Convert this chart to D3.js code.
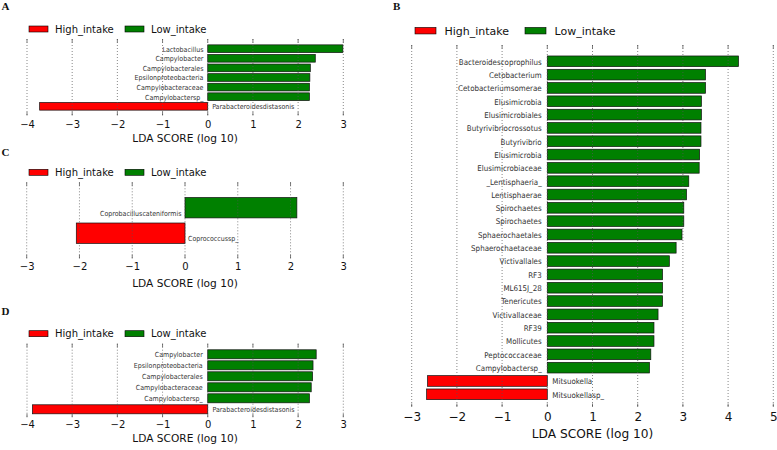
<!DOCTYPE html>
<html><head><meta charset="utf-8">
<script src="https://cdn.jsdelivr.net/npm/d3@7"></script>
<style>
body{margin:0;background:#fff;}
svg{display:block;}
.barlab{font-family:"DejaVu Sans Condensed","DejaVu Sans",sans-serif;font-stretch:condensed;fill:#333;}
.tick text,.ttl,.leg{font-family:"DejaVu Sans",sans-serif;fill:#111;}
.letter{font-family:"Liberation Serif","DejaVu Serif",serif;font-weight:bold;fill:#111;}
</style></head>
<body>
<script>
// ---------------- DATA ----------------
const groups = ["High_intake", "Low_intake"];
const groupColors = ["#ff0000", "#008000"];

const namesA = ["Lactobacillus","Campylobacter","Campylobacterales","Epsilonproteobacteria","Campylobacteraceae","Campylobactersp_","Parabacteroidesdistasonis"];
const valuesA = [2.99, 2.38, 2.27, 2.26, 2.25, 2.25, -3.72];
const ticksA = [-4,-3,-2,-1,0,1,2,3];

const namesC = ["Coprobacilluscateniformis","Coprococcussp_"];
const valuesC = [2.12, -2.06];
const ticksC = [-3,-2,-1,0,1,2,3];

const namesD = ["Campylobacter","Epsilonproteobacteria","Campylobacterales","Campylobacteraceae","Campylobactersp_","Parabacteroidesdistasonis"];
const valuesD = [2.40, 2.33, 2.32, 2.29, 2.25, -3.88];
const ticksD = [-4,-3,-2,-1,0,1,2,3];

const namesB = ["Bacteroidescoprophilus","Cetobacterium","Cetobacteriumsomerae","Elusimicrobia","Elusimicrobiales","Butyrivibriocrossotus","Butyrivibrio","Elusimicrobia","Elusimicrobiaceae","_Lentisphaeria_","Lentisphaerae","Spirochaetes","Spirochaetes","Sphaerochaetales","Sphaerochaetaceae","Victivallales","RF3","ML615J_28","Tenericutes","Victivallaceae","RF39","Mollicutes","Peptococcaceae","Campylobactersp_","Mitsuokella","Mitsuokellasp_"];
const valuesB = [4.23, 3.50, 3.50, 3.41, 3.41, 3.40, 3.40, 3.37, 3.36, 3.13, 3.08, 3.02, 3.02, 2.98, 2.85, 2.70, 2.55, 2.55, 2.55, 2.45, 2.36, 2.36, 2.29, 2.26, -2.65, -2.67];
const ticksB = [-3,-2,-1,0,1,2,3,4,5];

const axisTitle = "LDA SCORE (log 10)";

// ---------------- DRAW ----------------
const svg = d3.select("body").append("svg").attr("width",777).attr("height",450);

function fmt(d){ return d < 0 ? "\u2212" + Math.abs(d) : String(d); }

function drawPanel(o){
  const g = svg.append("g");
  const x = d3.scaleLinear().domain(d3.extent(o.ticks)).range(o.xRange);
  const rows = o.names.map((n,i)=>({key:i, name:n, v:o.values[i]}));
  const y = d3.scaleBand().domain(rows.map(r=>r.key)).range(o.yRange)
      .paddingInner(o.padIn).paddingOuter(o.padOut);

  // letter
  g.append("text").attr("class","letter").attr("x",o.letter[0]).attr("y",o.letter[1])
    .attr("font-size",o.letterSize).text(o.letterText);

  // legend
  const lg = g.append("g");
  groups.forEach((gr,i)=>{
    lg.append("rect").attr("x",o.legX[i]).attr("y",o.legY-o.legH/2)
      .attr("width",o.legW).attr("height",o.legH)
      .attr("fill",groupColors[i]).attr("stroke","#000").attr("stroke-width",0.6);
    lg.append("text").attr("class","leg").attr("x",o.legX[i]+o.legW+o.legGap).attr("y",o.legY)
      .attr("dy","0.36em").attr("font-size",o.legFont).text(gr);
  });

  // bars
  g.selectAll("rect.bar").data(rows).join("rect").attr("class","bar")
    .attr("x",d=>x(Math.min(0,d.v))).attr("width",d=>Math.abs(x(d.v)-x(0)))
    .attr("y",d=>y(d.key)).attr("height",y.bandwidth())
    .attr("fill",d=>d.v<0?groupColors[0]:groupColors[1])
    .attr("stroke","#111").attr("stroke-width",0.7);

  // bar labels
  g.selectAll("text.barlab").data(rows).join("text").attr("class","barlab")
    .attr("font-size",o.labFont)
    .attr("x",d=>d.v<0 ? x(0)+o.labGapR : x(0)-o.labGapL)
    .attr("y",d=>y(d.key)+y.bandwidth()-o.labUp)
    .attr("text-anchor",d=>d.v<0?"start":"end")
    .text(d=>d.name);

  // grid (on top of bars)
  const gr = g.append("g");
  o.ticks.forEach(t=>{
    gr.append("line").attr("x1",x(t)).attr("x2",x(t)).attr("y1",o.top).attr("y2",o.bottom)
      .attr("stroke","#555").attr("stroke-width",0.7).attr("stroke-dasharray","1,2");
    gr.append("line").attr("x1",x(t)).attr("x2",x(t)).attr("y1",o.top).attr("y2",o.top+3.5)
      .attr("stroke","#444").attr("stroke-width",0.7);
    gr.append("line").attr("x1",x(t)).attr("x2",x(t)).attr("y1",o.bottom-3.5).attr("y2",o.bottom)
      .attr("stroke","#444").attr("stroke-width",0.7);
  });

  // axis tick labels
  const ax = g.append("g").attr("transform",`translate(0,${o.tickY})`)
    .call(d3.axisBottom(x).tickValues(o.ticks).tickFormat(fmt).tickSize(0).tickPadding(0));
  ax.select(".domain").remove();
  ax.selectAll(".tick text").attr("y",0).attr("dy","0.36em").attr("font-size",o.tickFont)
    .attr("fill","#111");

  // axis title
  g.append("text").attr("class","ttl").attr("x",(o.xRange[0]+o.xRange[1])/2).attr("y",o.titleY)
    .attr("dy","0.36em").attr("text-anchor","middle").attr("font-size",o.titleFont).text(axisTitle);
}

drawPanel({
  names:namesA, values:valuesA, ticks:ticksA, xRange:[27,343.3],
  yRange:[43.9,111.1], padIn:0.2, padOut:0.1, top:39, bottom:115.5,
  letter:[1.5,10], letterSize:11, letterText:"A",
  legX:[29,125], legY:29, legW:19, legH:6, legGap:7, legFont:10,
  labFont:7, labGapL:4.3, labGapR:4.4, labUp:1,
  tickY:124.5, tickFont:10, titleY:138, titleFont:10.6
});
drawPanel({
  names:namesC, values:valuesC, ticks:ticksC, xRange:[26.7,343.3],
  yRange:[194.95,245.95], padIn:0.2, padOut:0.1, top:182.3, bottom:258.3,
  letter:[1.5,156], letterSize:11, letterText:"C",
  legX:[29,125], legY:172.3, legW:19, legH:6, legGap:7, legFont:10,
  labFont:7, labGapL:3.5, labGapR:3, labUp:2,
  tickY:266.7, tickFont:10, titleY:282.7, titleFont:10.6
});
drawPanel({
  names:namesD, values:valuesD, ticks:ticksD, xRange:[27,343.3],
  yRange:[348.8,414.8], padIn:0.18, padOut:0.09, top:343.7, bottom:417.3,
  letter:[1.5,315], letterSize:11, letterText:"D",
  legX:[29,125], legY:333.7, legW:19, legH:6, legGap:7, legFont:10,
  labFont:7, labGapL:5, labGapR:4.7, labUp:1.5,
  tickY:424, tickFont:10, titleY:438.5, titleFont:10.6
});
drawPanel({
  names:namesB, values:valuesB, ticks:ticksB, xRange:[411.7,773.3],
  yRange:[54.64,400.96], padIn:0.2, padOut:0.1, top:45, bottom:407,
  letter:[393,10], letterSize:11, letterText:"B",
  legX:[415,525], legY:30.7, legW:21, legH:6.5, legGap:8.5, legFont:11,
  labFont:7.9, labGapL:5.6, labGapR:5, labUp:2,
  tickY:416.7, tickFont:12, titleY:434, titleFont:12.2
});
</script>
</body></html>
